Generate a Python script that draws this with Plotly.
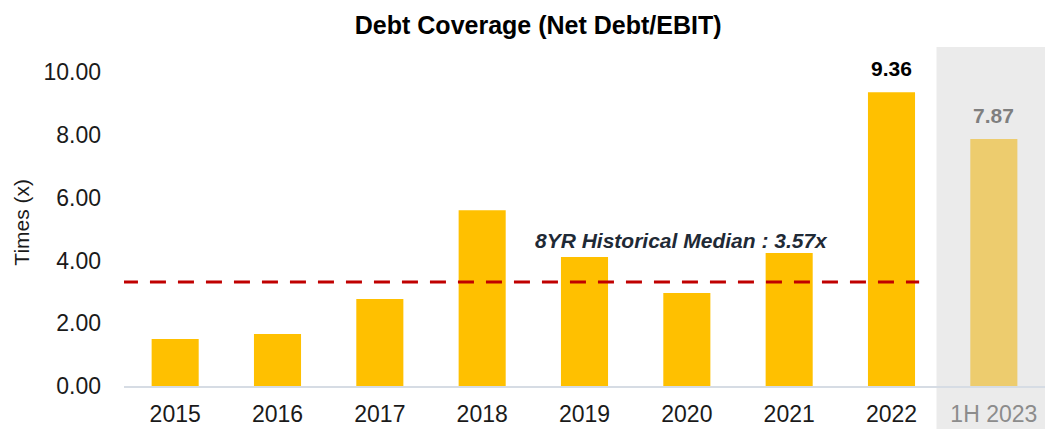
import plotly.graph_objects as go

categories = ["2015", "2016", "2017", "2018", "2019", "2020", "2021", "2022", "1H 2023"]
values = [1.50, 1.66, 2.77, 5.60, 4.11, 2.96, 4.24, 9.36, 7.87]
bar_colors = ["#FFC000"] * 8 + ["#EDCC6E"]
label_values = [None] * 7 + [9.36, 7.87]
label_colors = ["#000000"] * 8 + ["#7F7F7F"]
tick_colors = ["#1A1A1A"] * 8 + ["#8C8C8C"]
median_line = 3.31
median_text = "8YR Historical Median : 3.57x"

font = "Arial, Liberation Sans, sans-serif"
idx = list(range(len(categories)))

fig = go.Figure()
fig.add_trace(go.Bar(
    x=idx, y=values,
    marker=dict(color=bar_colors, line=dict(width=0)),
    width=0.46,
    hoverinfo="skip",
))

# shaded half-year column
fig.add_shape(type="rect", xref="x", yref="paper",
              x0=7.44, x1=8.6, y0=-0.13, y1=1,
              fillcolor="#EBEBEB", line_width=0, layer="below")

# median line
fig.add_shape(type="line", xref="x", yref="y",
              x0=-0.52, x1=7.27, y0=median_line, y1=median_line,
              line=dict(color="#C00000", width=3, dash="16px,12px"))

fig.add_annotation(x=4.95, y=4.65, xref="x", yref="y", text="<b><i>" + median_text + "</i></b>",
                   showarrow=False, font=dict(family=font, size=21, color="#1F2A36"))

for i, (v, c) in enumerate(zip(label_values, label_colors)):
    if v is None:
        continue
    fig.add_annotation(x=i, y=v, xref="x", yref="y", text="<b>%.2f</b>" % v,
                       showarrow=False, yanchor="bottom", yshift=10,
                       font=dict(family=font, size=21, color=c))

fig.add_annotation(x=-0.1107, y=0.482, xref="paper", yref="paper", text="Times (x)",
                   textangle=-90, showarrow=False, xanchor="center", yanchor="middle",
                   font=dict(family=font, size=21, color="#1A1A1A"))

ticktext = ['<span style="color:%s">%s</span>' % (c, t) for c, t in zip(tick_colors, categories)]

fig.update_layout(
    width=1045, height=429,
    margin=dict(l=124, r=0, t=47, b=43),
    plot_bgcolor="white", paper_bgcolor="white",
    showlegend=False,
    title=dict(text="<b>Debt Coverage (Net Debt/EBIT)</b>", x=0.515, xref="container",
               y=0.942, yref="container", xanchor="center", yanchor="middle",
               font=dict(family=font, size=25, color="#000000")),
    xaxis=dict(tickvals=idx, ticktext=ticktext, range=[-0.5, 8.5],
               showgrid=False, zeroline=False, showline=True, linecolor="#D6DCE4", linewidth=2,
               ticks="", ticklabelstandoff=6,
               tickfont=dict(family=font, size=23, color="#1A1A1A")),
    yaxis=dict(range=[0, 10.8], tickvals=[0, 2, 4, 6, 8, 10], tickformat=".2f",
               showgrid=False, zeroline=False, showline=False, ticks="", ticklabelstandoff=22,
               tickfont=dict(family=font, size=23, color="#1A1A1A")),
)

fig.write_html("out.html", config={"displayModeBar": False},
               post_script="document.body.style.margin='0';document.body.style.overflow='hidden';")
